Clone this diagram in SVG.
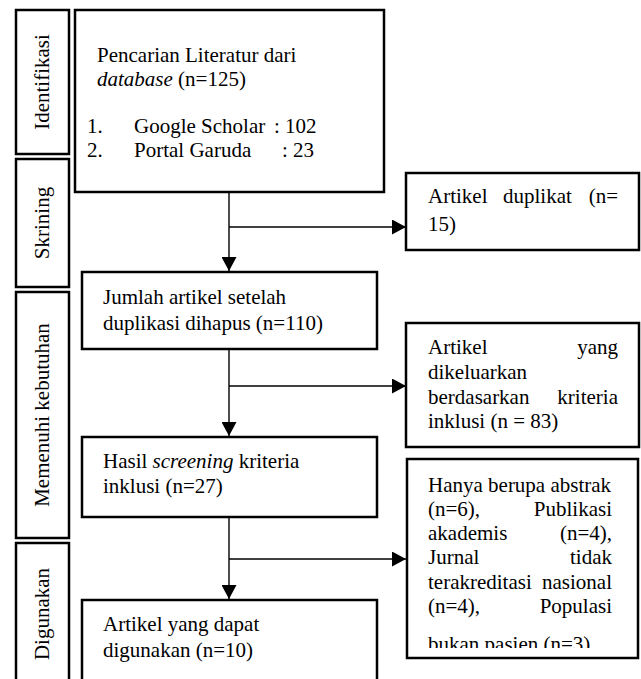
<svg xmlns="http://www.w3.org/2000/svg" width="641" height="679" viewBox="0 0 641 679">
<style>
.box{fill:#fff;stroke:#000;stroke-width:2.5}
.t{font-size:21px;fill:#000}
.e{text-anchor:end}
.c{text-anchor:middle}
.ln{stroke:#000;stroke-width:1.4;fill:none}
</style>
<defs>
<marker id="ah" markerWidth="14" markerHeight="15" refX="14" refY="7.5" orient="auto" markerUnits="userSpaceOnUse">
<path d="M0,0 L14,7.5 L0,15 Z" fill="#000"/>
</marker>
<clipPath id="clip3"><rect x="407" y="459" width="232" height="189"/></clipPath>
</defs>
<rect width="641" height="679" fill="#fff"/>
<g font-family="Liberation Serif, Tinos, DejaVu Serif, serif">
<g id="stage-identifikasi">
<rect class="box" x="16" y="10" width="53" height="144"/>
<text class="t c" transform="translate(49,82) rotate(-90)">Identifikasi</text>
</g>
<g id="stage-skrining">
<rect class="box" x="16" y="159" width="53" height="128"/>
<text class="t c" transform="translate(49,223) rotate(-90)">Skrining</text>
</g>
<g id="stage-memenuhi">
<rect class="box" x="16" y="292" width="53" height="246"/>
<text class="t c" transform="translate(49,415) rotate(-90)">Memenuhi kebutuhan</text>
</g>
<g id="stage-digunakan">
<rect class="box" x="16" y="543" width="53" height="150"/>
<text class="t c" transform="translate(49,614) rotate(-90)">Digunakan</text>
</g>

<g id="connectors">
<line class="ln" x1="229" y1="192" x2="229" y2="271" marker-end="url(#ah)"/>
<line class="ln" x1="229" y1="227" x2="406" y2="227" marker-end="url(#ah)"/>
<line class="ln" x1="229" y1="349" x2="229" y2="436" marker-end="url(#ah)"/>
<line class="ln" x1="229" y1="386" x2="406" y2="386" marker-end="url(#ah)"/>
<line class="ln" x1="229" y1="517" x2="229" y2="599" marker-end="url(#ah)"/>
<line class="ln" x1="229" y1="559" x2="406" y2="559" marker-end="url(#ah)"/>
</g>

<g id="n-pencarian">
<rect class="box" x="75" y="10" width="309" height="182"/>
<text class="t" x="97" y="62">Pencarian Literatur dari</text>
<text class="t" x="97" y="86"><tspan font-style="italic">database</tspan> (n=125)</text>
<text class="t" x="87" y="133">1.</text>
<text class="t" x="134" y="133">Google Scholar</text>
<text class="t" x="274" y="133">: 102</text>
<text class="t" x="87" y="157">2.</text>
<text class="t" x="134" y="157">Portal Garuda</text>
<text class="t" x="282" y="157">: 23</text>
</g>

<g id="n-duplikat">
<rect class="box" x="406" y="173" width="233" height="77"/>
<text class="t" x="428" y="203">Artikel</text>
<text class="t" x="503" y="203">duplikat</text>
<text class="t e" x="618" y="203">(n=</text>
<text class="t" x="428" y="231">15)</text>
</g>

<g id="n-jumlah">
<rect class="box" x="82" y="272" width="295" height="77"/>
<text class="t" x="103" y="304">Jumlah artikel setelah</text>
<text class="t" x="103" y="330">duplikasi dihapus (n=110)</text>
</g>

<g id="n-dikeluarkan">
<rect class="box" x="406" y="323" width="233" height="124"/>
<text class="t" x="428" y="354">Artikel</text>
<text class="t e" x="618" y="354">yang</text>
<text class="t" x="428" y="379">dikeluarkan</text>
<text class="t" x="428" y="404">berdasarkan</text>
<text class="t e" x="618" y="404">kriteria</text>
<text class="t" x="428" y="428">inklusi (n = 83)</text>
</g>

<g id="n-hasil">
<rect class="box" x="82" y="437" width="295" height="80"/>
<text class="t" x="103" y="468">Hasil <tspan font-style="italic">screening</tspan> kriteria</text>
<text class="t" x="103" y="493">inklusi (n=27)</text>
</g>

<g id="n-alasan">
<rect class="box" x="407" y="459" width="231" height="199"/>
<g clip-path="url(#clip3)">
<text class="t" x="428" y="492">Hanya berupa abstrak</text>
<text class="t" x="428" y="516">(n=6),</text>
<text class="t e" x="612" y="516">Publikasi</text>
<text class="t" x="428" y="540">akademis</text>
<text class="t e" x="612" y="540">(n=4),</text>
<text class="t" x="428" y="564">Jurnal</text>
<text class="t e" x="612" y="564">tidak</text>
<text class="t" x="428" y="589">terakreditasi</text>
<text class="t e" x="612" y="589">nasional</text>
<text class="t" x="428" y="613">(n=4),</text>
<text class="t e" x="612" y="613">Populasi</text>
<text class="t" x="428" y="651">bukan pasien (n=3)</text>
</g>
</g>

<g id="n-digunakan">
<rect class="box" x="82" y="600" width="295" height="95"/>
<text class="t" x="103" y="631">Artikel yang dapat</text>
<text class="t" x="103" y="657">digunakan (n=10)</text>
</g>
</g>
</svg>
